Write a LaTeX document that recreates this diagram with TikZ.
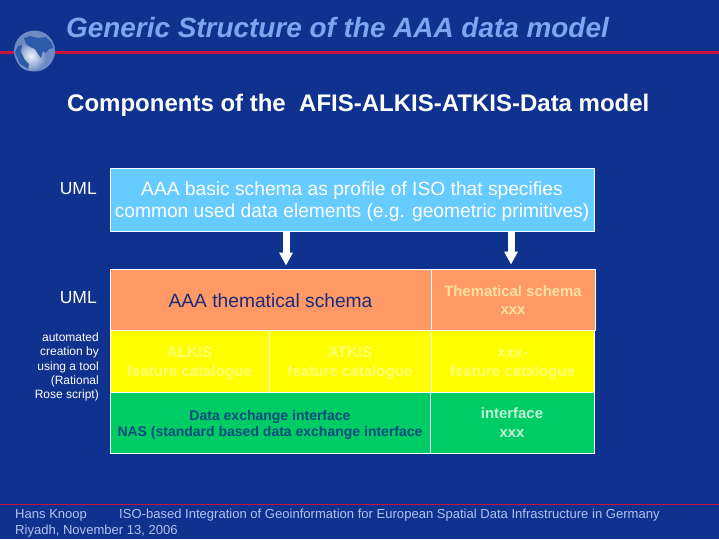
\documentclass[tikz,border=0pt]{standalone}
\usepackage{fontspec}
\setmainfont{Liberation Sans}
\usetikzlibrary{arrows.meta}
\definecolor{fondo}{RGB}{15,50,143}
\definecolor{linea}{RGB}{200,20,60}
\definecolor{titulo}{RGB}{125,165,240}
\definecolor{pie}{RGB}{175,195,240}
\definecolor{celeste}{RGB}{102,204,255}
\definecolor{naranja}{RGB}{255,153,102}
\definecolor{amarillo}{RGB}{255,255,0}
\definecolor{verde}{RGB}{0,204,102}
\definecolor{tinta}{RGB}{25,45,125}
\definecolor{tintaverde}{RGB}{10,75,125}
\definecolor{tierra}{RGB}{45,90,170}
\newcommand{\bajar}[1]{\rule{0pt}{#1}}
\tikzset{
    caja/.style={draw=white, line width=1pt, inner sep=0pt, align=center},
    rotulo/.style={text=white, anchor=east, align=right, inner sep=0pt},
    flecha/.style={white, line width=7pt, -{Triangle[width=13pt,length=13pt]}, shorten >=-0.5pt}
}
\begin{document}
\begin{tikzpicture}[x=1pt, y=-1pt]
    \useasboundingbox (0,0) rectangle (719,539);
    \fill[fondo] (0,0) rectangle (719,539);
    % Lineas
    \draw[linea, line width=2.4pt] (0,52.5) -- (719,52.5);
    \draw[linea, line width=0.7pt] (0,504) -- (719,504);
    % Globo
    \fill[tierra!70!white] (34.5,51) circle (20.5);
    \shade[inner color=white, outer color=tierra!70!white, opacity=0.9] (31,56) circle (15);
    \fill[tierra] (24,38) -- (30,36) -- (38,38) -- (46,37) -- (52,43) -- (53,48) -- (49,49) -- (46,53) -- (43,51) -- (41,58) -- (38,54) -- (35,49) -- (30,47) -- (26,44) -- cycle;
    \fill[tierra] (15,52) -- (18,46) -- (22,45) -- (21,52) -- (25,60) -- (29,64) -- (28,69) -- (20,64) -- cycle;
    % Titulos
    \node[anchor=west, text=titulo, inner sep=0pt, font=\fontsize{27.9}{32}\selectfont\bfseries\itshape] (titulo) at (66,28) {Generic Structure of the AAA data model};
    \node[anchor=west, text=white, inner sep=0pt, font=\fontsize{24}{28}\selectfont\bfseries] (subtitulo) at (67,105.5) {Components of the~ AFIS-ALKIS-ATKIS-Data model};
    % Rotulos
    \node[rotulo, font=\fontsize{17.5}{20}\selectfont] (umlA) at (97,189) {UML};
    \node[rotulo, font=\fontsize{17.5}{20}\selectfont] (umlB) at (97,298) {UML};
    \node[rotulo, font=\fontsize{12}{14.4}\selectfont] (herramienta) at (99,367) {automated\\creation by\\using a tool\\(Rational\\Rose script)};
    % Cajas
    \node[caja, fill=celeste, text=white, minimum width=484, minimum height=63, font=\fontsize{19.2}{22}\selectfont] (basico) at (352,199.5) {\bajar{17pt}AAA basic schema as profile of ISO that specifies\\common used data elements (e.g. geometric primitives)};
    \node[caja, fill=naranja, text=tinta, minimum width=321, minimum height=61, font=\fontsize{19.2}{22}\selectfont] (tematico) at (270.5,299.5) {\bajar{16pt}AAA thematical schema};
    \node[caja, fill=naranja, text=white!65!naranja!80!yellow, minimum width=164, minimum height=61, font=\fontsize{14.9}{18.5}\selectfont\bfseries] (tematicoX) at (513,299.5) {\bajar{12pt}Thematical schema\\xxx};
    \node[caja, fill=amarillo, text=white!45!amarillo, minimum width=159, minimum height=62, font=\fontsize{15.1}{18.5}\selectfont\bfseries] (alkis) at (189.5,361) {\bajar{15pt}ALKIS\\feature catalogue};
    \node[caja, fill=amarillo, text=white!45!amarillo, minimum width=162, minimum height=62, font=\fontsize{15.1}{18.5}\selectfont\bfseries] (atkis) at (350,361) {\bajar{15pt}ATKIS\\feature catalogue};
    \node[caja, fill=amarillo, text=white!45!amarillo, minimum width=163, minimum height=62, font=\fontsize{15.1}{18.5}\selectfont\bfseries] (catalogoX) at (512.5,361) {\bajar{15pt}xxx-\\feature catalogue};
    \node[caja, fill=verde, text=tintaverde, minimum width=320, minimum height=61, font=\fontsize{14}{16.5}\selectfont\bfseries] (nas) at (270,422.5) {\bajar{15pt}Data exchange interface\\NAS (standard based data exchange interface};
    \node[caja, fill=verde, text=white!75!verde, minimum width=164, minimum height=61, font=\fontsize{14.9}{18.5}\selectfont\bfseries] (interfazX) at (512,422.5) {interface\\xxx};
    % Flechas
    \coordinate (puntaA) at (286,265);
    \coordinate (puntaB) at (511,264);
    \draw[flecha] (basico.south -| puntaA) -- (puntaA);
    \draw[flecha] (basico.south -| puntaB) -- (puntaB);
    % Pie
    \node[anchor=west, text=pie, inner sep=0pt, font=\fontsize{13.05}{15}\selectfont] (autor) at (15,515) {Hans Knoop};
    \node[anchor=west, text=pie, inner sep=0pt, font=\fontsize{13.05}{15}\selectfont] (charla) at (119,515) {ISO-based Integration of Geoinformation for European Spatial Data Infrastructure in Germany};
    \node[anchor=west, text=pie, inner sep=0pt, font=\fontsize{13.05}{15}\selectfont] (fecha) at (15,531.5) {Riyadh, November 13, 2006};
\end{tikzpicture}
\end{document}
